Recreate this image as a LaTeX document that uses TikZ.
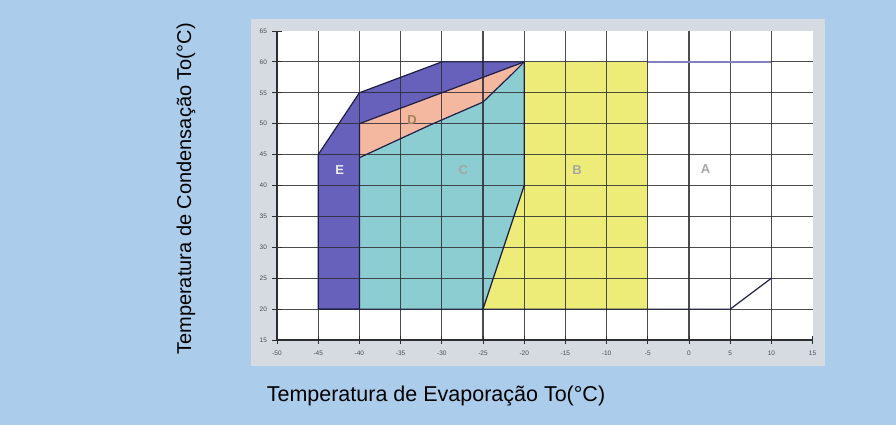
\documentclass[tikz,border=0pt]{standalone}
\usepackage{fontspec}
\setmainfont{Liberation Sans}
\definecolor{bgblue}{RGB}{171,204,235}
\definecolor{framegrey}{RGB}{214,219,226}
\definecolor{zoneE}{RGB}{104,97,188}
\definecolor{zoneD}{RGB}{244,184,160}
\definecolor{zoneC}{RGB}{140,205,210}
\definecolor{zoneB}{RGB}{238,236,120}
\definecolor{gridc}{RGB}{45,45,50}
\definecolor{edgec}{RGB}{30,30,70}
\definecolor{topA}{RGB}{130,130,190}
\tikzset{
  gridline/.style={draw=gridc, line width=1.2pt, opacity=0.85},
  zoneedge/.style={draw=edgec, line width=1.2pt, line join=round},
  ticklbl/.style={font=\fontsize{6.5}{7}\selectfont, text=gray!60!black, inner sep=0pt},
  zonelbl/.style={font=\fontsize{13}{14}\selectfont\bfseries, inner sep=0pt},
  axtitle/.style={text=black, inner sep=0pt}
}
\begin{document}
\begin{tikzpicture}[x=1pt,y=-1pt]
\fill[bgblue] (0,0) rectangle (896,425);
\useasboundingbox (0,0) rectangle (896,425);
\fill[framegrey] (251,19) rectangle (825,366);
\begin{scope}[shift={(689,432.7)}, x=8.24pt, y=6.18pt]
  % plot area
  \fill[white] (-50,15) rectangle (15,65);
  % zones
  \fill[zoneE] (-45,20) -- (-45,45) -- (-40,55) -- (-30,60) -- (-20,60) -- (-40,50) -- (-40,20) -- cycle;
  \fill[zoneD] (-40,50) -- (-20,60) -- (-21.5,58) -- (-25,53.5) -- (-31.4,49.8) -- (-40,44.5) -- cycle;
  \fill[zoneC] (-40,20) -- (-40,44.5) -- (-31.4,49.8) -- (-25,53.5) -- (-21.5,58) -- (-20,60) -- (-20,40) -- (-25,20) -- cycle;
  \fill[zoneB] (-25,20) -- (-20,40) -- (-20,60) -- (-5,60) -- (-5,20) -- cycle;
  % grid
  \foreach \gx in {-45,-40,...,10} \draw[gridline] (\gx,15) -- (\gx,65);
  \foreach \gy in {20,25,...,60} \draw[gridline] (-50,\gy) -- (15,\gy);
  % axes
  \draw[draw=gridc, line width=1.4pt] (-50,65) -- (-50,15) -- (15,15);
  \foreach \gy in {15,20,...,65} {
    \draw[draw=gridc, line width=0.8pt] (-50.6,\gy) -- (-49.4,\gy);
    \node[ticklbl, anchor=east] (yl\gy) at (-51.2,\gy) {\gy};
  }
  \foreach \gx in {-50,-45,...,15} {
    \draw[draw=gridc, line width=0.8pt] (\gx,14.4) -- (\gx,15.6);
    \node[ticklbl, anchor=north] (xl\gx) at (\gx,13.3) {\gx};
  }
  % zone outlines
  \draw[zoneedge] (-40,20) -- (-45,20) -- (-45,45) -- (-40,55) -- (-30,60) -- (-20,60);
  \draw[zoneedge] (-40,20) -- (-40,50) -- (-20,60);
  \draw[zoneedge] (-40,44.5) -- (-31.4,49.8) -- (-25,53.5) -- (-21.5,58) -- (-20,60);
  \draw[zoneedge] (-20,60) -- (-20,40) -- (-25,20);
  \draw[zoneedge] (-45,20) -- (5,20) -- (10,25);
  \draw[draw=topA, line width=1.4pt] (-5,60) -- (10,60);
  % zone labels
  \node[zonelbl, text=white!85!gray] (lblE) at (-42.4,42.5) {E};
  \node[zonelbl, text=brown!60!gray] (lblD) at (-33.6,50.6) {D};
  \node[zonelbl, text=gray!70] (lblC) at (-27.4,42.5) {C};
  \node[zonelbl, text=gray!70] (lblB) at (-13.6,42.5) {B};
  \node[zonelbl, text=gray!70] (lblA) at (2,42.7) {A};
\end{scope}
\node[axtitle, rotate=90, font=\fontsize{20}{22}\selectfont] (ytitle) at (186,189) {Temperatura de Condensação To(°C)};
\node[axtitle, font=\fontsize{21.5}{24}\selectfont] (xtitle) at (436,396) {Temperatura de Evaporação To(°C)};
\end{tikzpicture}
\end{document}
